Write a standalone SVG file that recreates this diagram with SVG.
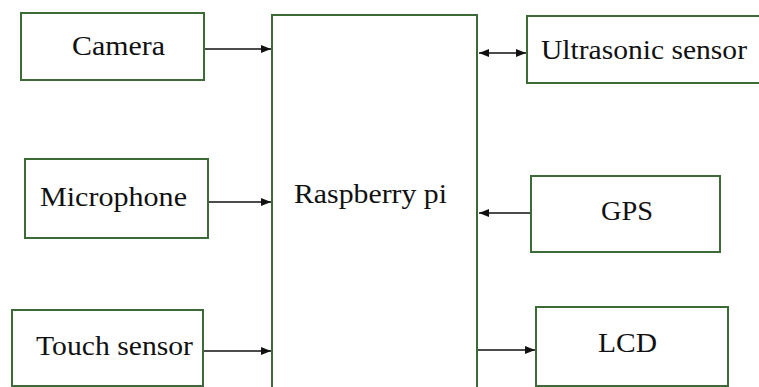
<svg xmlns="http://www.w3.org/2000/svg" width="759" height="387" viewBox="0 0 759 387">
<style>
.box{fill:#fff;stroke:#3d6b38;stroke-width:2}
.lbl{font-size:27px;fill:#111}
.ln{stroke:#111;stroke-width:1.6;fill:none}
</style>
<defs>
<marker id="ah" viewBox="0 0 10 8" refX="10" refY="4" markerWidth="10" markerHeight="8" markerUnits="userSpaceOnUse" orient="auto-start-reverse">
<path d="M0,0 L10,4 L0,8 z" fill="#111"/>
</marker>
</defs>
<rect width="759" height="387" fill="#fff"/>
<g font-family="Liberation Serif, DejaVu Serif, serif">
<g id="raspberry">
<rect class="box" x="272" y="15" width="205" height="380"/>
<text class="lbl" x="294" y="203" textLength="153" lengthAdjust="spacingAndGlyphs">Raspberry pi</text>
</g>
<g id="camera">
<rect class="box" x="21" y="13" width="183" height="67"/>
<text class="lbl" x="72" y="55" textLength="93" lengthAdjust="spacingAndGlyphs">Camera</text>
</g>
<g id="microphone">
<rect class="box" x="25" y="159" width="183" height="79"/>
<text class="lbl" x="40" y="206" textLength="147" lengthAdjust="spacingAndGlyphs">Microphone</text>
</g>
<g id="touch">
<rect class="box" x="12" y="310" width="191" height="76"/>
<text class="lbl" x="36" y="355" textLength="157" lengthAdjust="spacingAndGlyphs">Touch sensor</text>
</g>
<g id="ultrasonic">
<rect class="box" x="527" y="16" width="240" height="67"/>
<text class="lbl" x="541" y="59" textLength="206" lengthAdjust="spacingAndGlyphs">Ultrasonic sensor</text>
</g>
<g id="gps">
<rect class="box" x="531" y="176" width="189" height="76"/>
<text class="lbl" x="601" y="220" textLength="52" lengthAdjust="spacingAndGlyphs">GPS</text>
</g>
<g id="lcd">
<rect class="box" x="536" y="307" width="192" height="79"/>
<text class="lbl" x="598" y="352" textLength="59" lengthAdjust="spacingAndGlyphs">LCD</text>
</g>
</g>
<g id="connectors">
<line class="ln" x1="205" y1="49" x2="271" y2="49" marker-end="url(#ah)"/>
<line class="ln" x1="209" y1="202" x2="271" y2="202" marker-end="url(#ah)"/>
<line class="ln" x1="204" y1="351" x2="271" y2="351" marker-end="url(#ah)"/>
<line class="ln" x1="479" y1="53" x2="526" y2="53" marker-start="url(#ah)" marker-end="url(#ah)"/>
<line class="ln" x1="530" y1="213" x2="479" y2="213" marker-end="url(#ah)"/>
<line class="ln" x1="478" y1="350" x2="535" y2="350" marker-end="url(#ah)"/>
</g>
</svg>
